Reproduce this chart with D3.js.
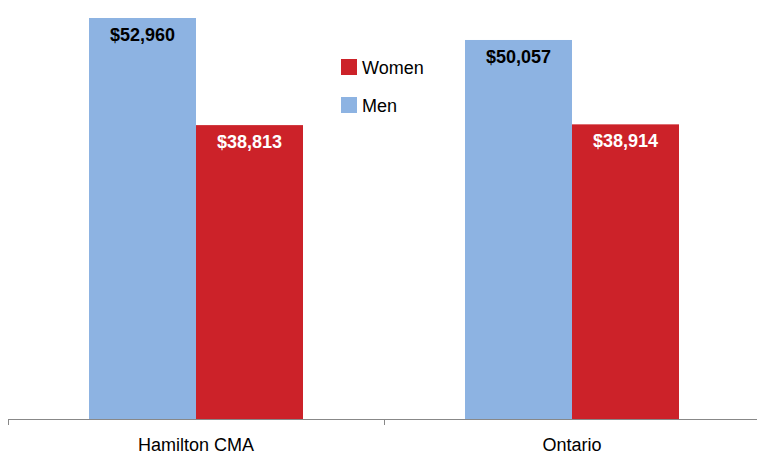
<!DOCTYPE html>
<html>
<head>
<meta charset="utf-8">
<script src="https://cdn.jsdelivr.net/npm/d3@7"></script>
<style>
  body { margin: 0; background: #fff; }
  text { font-family: "Liberation Sans", Arial, sans-serif; }
</style>
</head>
<body>
<div id="chart"></div>
<script>
const width = 757;
const height = 454;

const regions = ["Hamilton CMA", "Ontario"];
const groups = ["Men", "Women"];
const men = [52960, 50057];
const women = [38813, 38914];

const colors = { Men: "#8db3e2", Women: "#cc2229" };

const data = regions.map((r, i) => ({ region: r, values: [
    { key: "Men", value: men[i] },
    { key: "Women", value: women[i] }
] }));

const svg = d3.select("#chart")
    .append("svg")
    .attr("width", width)
    .attr("height", height);

const baseY = 419;

const x0 = d3.scaleBand()
    .domain(regions)
    .range([8, 760]);

const x1 = d3.scaleBand()
    .domain(groups)
    .range([0, x0.bandwidth()])
    .paddingOuter(0.757);

const y = d3.scaleLinear()
    .domain([0, 52960])
    .range([baseY, 18]);

const group = svg.append("g")
    .selectAll("g")
    .data(data)
    .join("g")
    .attr("transform", d => `translate(${x0(d.region)},0)`);

group.selectAll("rect")
    .data(d => d.values)
    .join("rect")
    .attr("x", d => x1(d.key))
    .attr("y", d => y(d.value))
    .attr("width", x1.bandwidth())
    .attr("height", d => baseY - y(d.value))
    .attr("fill", d => colors[d.key]);

group.selectAll("text.val")
    .data(d => d.values)
    .join("text")
    .attr("class", "val")
    .attr("x", d => x1(d.key) + x1.bandwidth() / 2)
    .attr("y", d => y(d.value) + 23)
    .attr("text-anchor", "middle")
    .style("font-size", "18px")
    .style("font-weight", "bold")
    .attr("fill", d => d.key === "Men" ? "#000" : "#fff")
    .text(d => "$" + d3.format(",")(d.value));

// x axis
const axis = svg.append("g")
    .attr("transform", `translate(0,${baseY})`);

axis.append("line")
    .attr("x1", 8).attr("x2", 760)
    .attr("y1", 0.5).attr("y2", 0.5)
    .attr("stroke", "#888");

axis.selectAll("line.sep")
    .data([8, 384, 760])
    .join("line")
    .attr("class", "sep")
    .attr("x1", d => d + 0.5).attr("x2", d => d + 0.5)
    .attr("y1", 0).attr("y2", 6)
    .attr("stroke", "#888");

axis.selectAll("text.cat")
    .data(regions)
    .join("text")
    .attr("class", "cat")
    .attr("x", d => x0(d) + x0.bandwidth() / 2)
    .attr("y", 32)
    .attr("text-anchor", "middle")
    .attr("fill", "#000")
    .style("font-size", "18px")
    .text(d => d);

// legend
const legendOrder = ["Women", "Men"];
const legend = svg.append("g")
    .selectAll("g")
    .data(legendOrder)
    .join("g")
    .attr("transform", (d, i) => `translate(341,${59 + i * 38})`);

legend.append("rect")
    .attr("width", 16)
    .attr("height", 16)
    .attr("fill", d => colors[d]);

legend.append("text")
    .attr("x", 21)
    .attr("y", 15)
    .style("font-size", "18px")
    .attr("fill", "#000")
    .text(d => d);
</script>
</body>
</html>
